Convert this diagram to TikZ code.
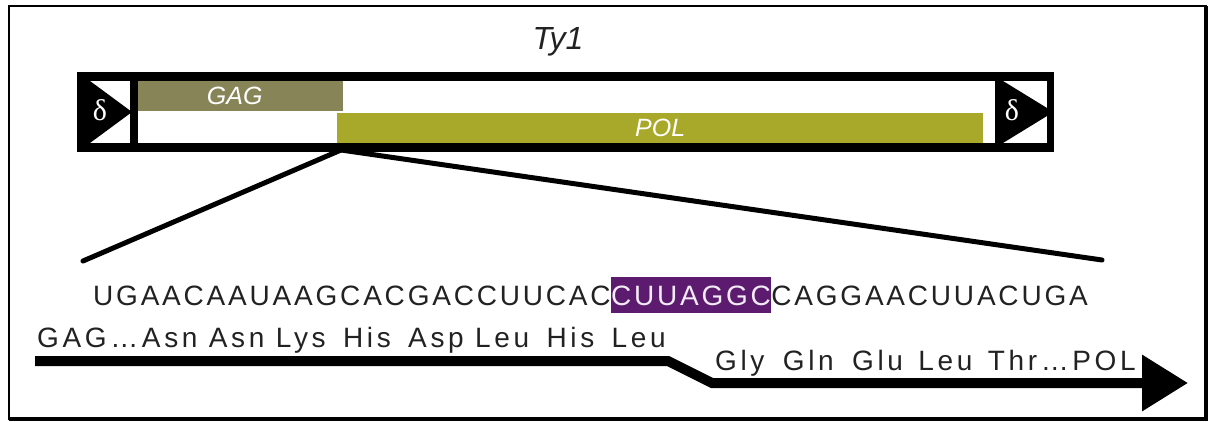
\documentclass[tikz,border=0pt]{standalone}
\usepackage{fontspec}
\setmainfont{Liberation Sans}
\newfontfamily\seqfont[LetterSpace=10]{Liberation Sans}
\newfontfamily\aafont[LetterSpace=13]{Liberation Sans}
\newfontfamily\ltrfont{Liberation Serif}
\usetikzlibrary{arrows.meta}

\definecolor{gagcol}{HTML}{878558}
\definecolor{polcol}{HTML}{A8A82A}
\definecolor{slipcol}{HTML}{5C1B6E}
\definecolor{sliptext}{HTML}{F2EAF5}
\definecolor{ink}{HTML}{222222}

\tikzset{
  orf/.style={anchor=north west, inner sep=0pt, text=white,
    font=\itshape\fontsize{25}{28}\selectfont},
  ltrlabel/.style={text=white, inner sep=0pt, font=\ltrfont\fontsize{30}{32}\selectfont},
  seqtext/.style={anchor=base west, inner sep=0pt, text=ink,
    font=\seqfont\fontsize{28}{32}\selectfont},
  aatext/.style={anchor=base west, inner sep=0pt, text=ink,
    font=\aafont\fontsize{28}{30}\selectfont},
  zoomline/.style={line width=5pt, line cap=round},
  readframe/.style={line width=10pt, -{Triangle[length=46pt,width=54pt]}},
}

\begin{document}
\begin{tikzpicture}[x=1pt,y=-1pt]
\useasboundingbox (0,0) rectangle (1214,422);

% panel frame: thin top/left, heavy right/bottom
\draw[line width=1.5pt] (9,6) rectangle (1206,419);
\draw[line width=4pt] (1206,6) -- (1206,421);
\draw[line width=4pt] (9,419) -- (1208,419);

% title
\node (title) [text=ink, font=\itshape\fontsize{32}{34}\selectfont] at (558,42) {Ty1};

% lines fanning out from the frameshift site
\coordinate (site) at (341,150);
\coordinate (zl) at (83,261);
\coordinate (zr) at (1102,260);
\draw[zoomline] (site) -- (zl);
\draw[zoomline] (site) -- (zr);

% element body
\fill[black] (77,72) rectangle (1054,152);
\fill[white] (86,81) rectangle (1046,143);

% left LTR
\fill[black] (77,72) rectangle (138,152);
\fill[white] (90,81) rectangle (130,143);
\fill[black] (90,81) -- (132,112) -- (90,143) -- cycle;
\node (ltrL) [ltrlabel] at (100,110) {δ};

% right LTR
\fill[black] (995,72) rectangle (1054,152);
\fill[white] (1003,81) rectangle (1047,143);
\fill[black] (1003,81) -- (1047,108) -- (1047,116) -- (1003,143) -- cycle;
\node (ltrR) [ltrlabel] at (1012,110) {δ};

% open reading frames
\node (gag) [orf, fill=gagcol, minimum width=205pt, minimum height=30pt] at (138,81) {\hspace{-12pt}GAG};
\node (pol) [orf, fill=polcol, minimum width=646pt, minimum height=30pt] at (337,113) {POL};

% RNA sequence around the slippery site
\node (seqA) [seqtext] at (93,305) {UGAACAAUAAGCACGACCUUCAC};
\node (slip) [seqtext, fill=slipcol, text=sliptext, inner xsep=0pt, inner ysep=8pt]
  at (seqA.base east) {CUUAGGC};
\node (seqB) [seqtext] at (slip.base east) {CAGGAACUUACUGA};

% translated peptides
\node (aa0) [aatext] at (37,347) {GAG…Asn Asn Lys\hspace{6pt} His\hspace{6pt} Asp Leu\hspace{6pt} His\hspace{6pt} Leu};
\node (aa1) [aatext] at (715,370) {Gly\hspace{7pt} Gln\hspace{7pt} Glu\hspace{4pt} Leu\hspace{4pt} Thr…POL};

% reading frame arrow with the -1 shift
\coordinate (rf0) at (35,361);
\coordinate (rf1) at (668,361);
\coordinate (rf2) at (712,383);
\coordinate (rf3) at (1188,383);
\draw[readframe] (rf0) -- (rf1) -- (rf2) -- (rf3);
\end{tikzpicture}
\end{document}
